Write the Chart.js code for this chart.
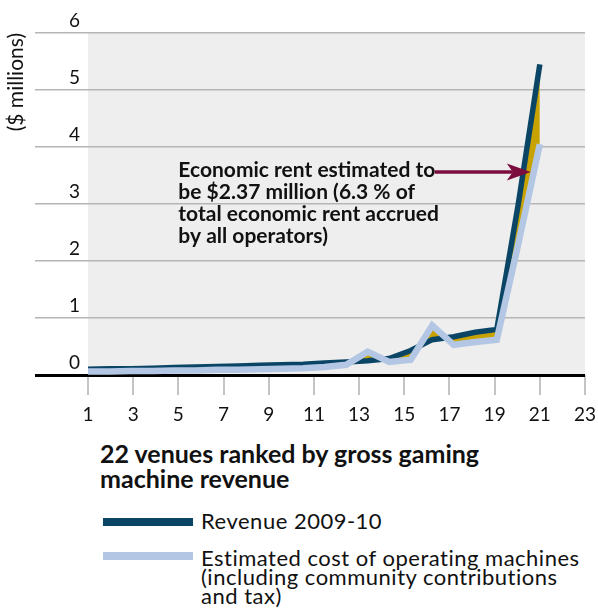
<!DOCTYPE html>
<html>
<head>
<meta charset="utf-8">
<script src="https://cdn.jsdelivr.net/npm/chart.js@4.4.0/dist/chart.umd.min.js"></script>
<style>
  body { margin: 0; background: #fff; font-family: Lato, sans-serif; color: #111; }
  .wrap { position: relative; width: 598px; height: 610px; overflow: hidden; }
  .chart-box { position: absolute; left: 0; top: 0; width: 598px; height: 430px; }
  .x-title { position: absolute; left: 100px; top: 441px; font-weight: bold; font-size: 25px; line-height: 25px; white-space: nowrap; }
  .swatch { position: absolute; left: 103px; width: 90px; height: 8px; }
  .legend-text { position: absolute; left: 201px; font-size: 22px; line-height: 19px; letter-spacing: 0.5px; white-space: nowrap; }
</style>
</head>
<body>
<div class="wrap">
  <div class="chart-box"><canvas id="venueChart"></canvas></div>
  <div class="x-title">22 venues ranked by gross gaming<br>machine revenue</div>
  <div class="swatch" style="top:518px; background:#0b4566;"></div>
  <div class="legend-text" style="top:511px;">Revenue 2009-10</div>
  <div class="swatch" style="top:552px; background:#b3c6e4;"></div>
  <div class="legend-text" style="top:548px;">Estimated cost of operating machines<br>(including community contributions<br>and tax)</div>
</div>
<script>
// venues ranked by gross gaming machine revenue
const VENUES = [1, 2, 3, 4, 5, 6, 7, 8, 9, 10, 11, 12, 13, 14, 15, 16, 17, 18, 19, 20, 21, 22];
// $ millions
const REVENUE = [0.10, 0.11, 0.11, 0.12, 0.13, 0.14, 0.15, 0.16, 0.17, 0.18, 0.19, 0.21, 0.23, 0.25, 0.29, 0.43, 0.62, 0.67, 0.75, 0.80, 3.00, 5.45];
const COST = [0.06, 0.06, 0.07, 0.07, 0.08, 0.08, 0.09, 0.09, 0.10, 0.11, 0.12, 0.14, 0.18, 0.41, 0.23, 0.27, 0.87, 0.53, 0.58, 0.62, 2.30, 4.05];

const X_TICKS = [1, 3, 5, 7, 9, 11, 13, 15, 17, 19, 21, 23];
const Y_TICKS = [0, 1, 2, 3, 4, 5, 6];

const NOTE_LINES = [
  "Economic rent estimated to",
  "be $2.37 million (6.3 % of",
  "total economic rent accrued",
  "by all operators)"
];
// note position in axis units (x on the 1-23 axis, y in $ millions, first baseline)
const NOTE_X = 5, NOTE_Y = 3.47;
const ARROW_FROM = 16.35, ARROW_TO = 20.6, ARROW_Y = 3.56;

const NAVY = "#0b4566";
const LIGHT = "#b3c6e4";
const GOLD = "#c8a300";
const MAROON = "#7b0d3e";

const plotBackground = {
  id: "plotBackground",
  beforeDraw(chart) {
    const { ctx, chartArea: a } = chart;
    ctx.save();
    ctx.fillStyle = "#edeeed";
    ctx.fillRect(a.left, a.top, a.right - a.left, a.bottom - a.top);
    ctx.restore();
  }
};

const rentNote = {
  id: "rentNote",
  afterDatasetsDraw(chart) {
    const { ctx, scales } = chart;
    const x = scales.x, y = scales.y;
    ctx.save();
    ctx.fillStyle = "#111";
    ctx.font = "bold 21px Lato";
    ctx.textBaseline = "alphabetic";
    ctx.textAlign = "left";
    NOTE_LINES.forEach((line, i) => {
      ctx.fillText(line, x.getPixelForValue(NOTE_X), y.getPixelForValue(NOTE_Y) + i * 21.8);
    });
    // arrow
    const x0 = x.getPixelForValue(ARROW_FROM), x1 = x.getPixelForValue(ARROW_TO);
    const ay = y.getPixelForValue(ARROW_Y);
    ctx.strokeStyle = MAROON;
    ctx.fillStyle = MAROON;
    ctx.lineWidth = 3.5;
    ctx.beginPath();
    ctx.moveTo(x0, ay);
    ctx.lineTo(x1 - 18, ay);
    ctx.stroke();
    ctx.beginPath();
    ctx.moveTo(x1, ay);
    ctx.lineTo(x1 - 24, ay - 8.5);
    ctx.lineTo(x1 - 18, ay);
    ctx.lineTo(x1 - 24, ay + 8.5);
    ctx.closePath();
    ctx.fill();
    ctx.restore();
  }
};

new Chart(document.getElementById("venueChart"), {
  type: "line",
  data: {
    datasets: [
      {
        label: "Estimated cost of operating machines",
        data: VENUES.map((v, i) => ({ x: v, y: COST[i] })),
        xAxisID: "xv",
        borderColor: LIGHT,
        borderWidth: 6.5,
        borderJoinStyle: "miter",
        pointRadius: 0,
        tension: 0,
        fill: false
      },
      {
        label: "Revenue 2009-10",
        data: VENUES.map((v, i) => ({ x: v, y: REVENUE[i] })),
        xAxisID: "xv",
        borderColor: NAVY,
        borderWidth: 5.5,
        borderJoinStyle: "miter",
        pointRadius: 0,
        tension: 0,
        fill: { target: 0 },
        backgroundColor: GOLD
      }
    ]
  },
  options: {
    responsive: true,
    maintainAspectRatio: false,
    animation: false,
    layout: { padding: { top: 33, right: 13, left: 0, bottom: 0 } },
    scales: {
      xv: {
        type: "linear",
        display: false,
        min: 1,
        max: 1 + 21 * 22 / 20
      },
      x: {
        type: "linear",
        position: "bottom",
        min: 1,
        max: 23,
        afterBuildTicks: s => { s.ticks = X_TICKS.map(v => ({ value: v })); },
        afterFit: s => { s.height = 55; s.paddingRight = 0; s.paddingLeft = 0; },
        border: { display: false },
        grid: { drawOnChartArea: false, drawTicks: true, tickLength: 20, color: "#c4c4c4", lineWidth: 2 },
        ticks: { color: "#111", font: { family: "Lato", size: 19 }, padding: 8, maxRotation: 0, autoSkip: false }
      },
      y: {
        min: 0,
        max: 6,
        afterBuildTicks: s => { s.ticks = Y_TICKS.map(v => ({ value: v })); },
        afterFit: s => { s.width = 88; },
        border: { display: false },
        grid: {
          color: c => c.tick && c.tick.value === 0 ? "#000" : "#b5b5b5",
          lineWidth: c => c.tick && c.tick.value === 0 ? 3 : 1.5,
          tickLength: 53
        },
        ticks: { color: "#111", font: { family: "Lato", size: 19 }, padding: -45, labelOffset: -12 },
        title: {
          display: true,
          text: "($ millions)",
          align: "end",
          color: "#111",
          font: { family: "Lato", size: 21 },
          padding: { top: 4, bottom: 0 }
        }
      }
    },
    plugins: {
      legend: { display: false },
      tooltip: { enabled: false },
      filler: { drawTime: "beforeDatasetsDraw" }
    }
  },
  plugins: [plotBackground, rentNote]
});
</script>
</body>
</html>
